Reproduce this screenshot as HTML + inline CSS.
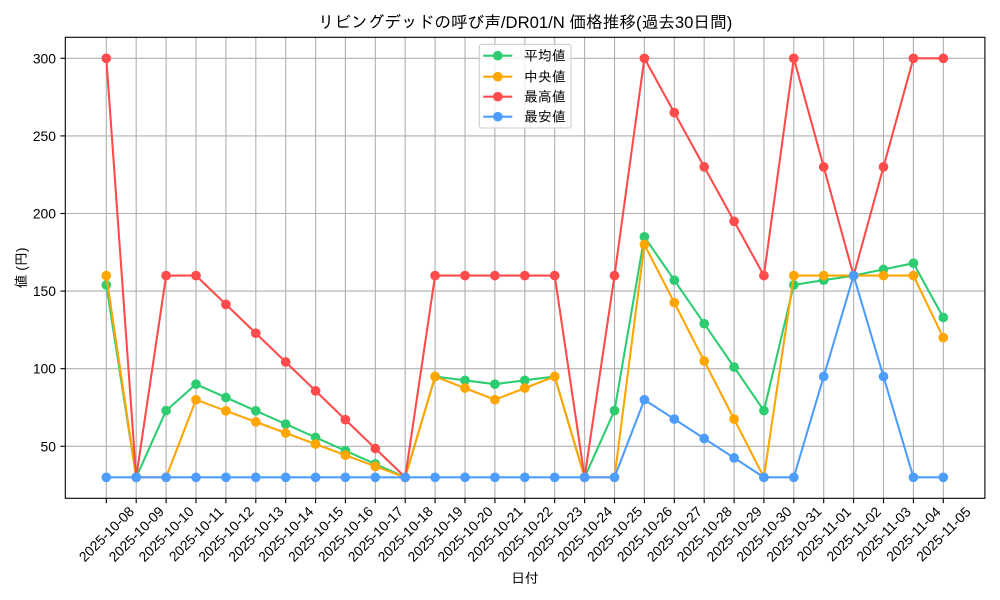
<!DOCTYPE html>
<html><head><meta charset="utf-8"><style>
html,body{margin:0;padding:0;background:#fff;}
svg{display:block;}
text{font-family:"Liberation Sans","IPAGothic",sans-serif;fill:#000;}
</style></head><body>
<svg width="1000" height="600" viewBox="0 0 1000 600" xmlns="http://www.w3.org/2000/svg">
<defs>
<marker id="mg" viewBox="-6 -6 12 12" markerWidth="12" markerHeight="12" markerUnits="userSpaceOnUse" refX="0" refY="0"><circle r="4.85" fill="#2ecc71"/></marker>
<marker id="mo" viewBox="-6 -6 12 12" markerWidth="12" markerHeight="12" markerUnits="userSpaceOnUse" refX="0" refY="0"><circle r="4.85" fill="#ffa500"/></marker>
<marker id="mr" viewBox="-6 -6 12 12" markerWidth="12" markerHeight="12" markerUnits="userSpaceOnUse" refX="0" refY="0"><circle r="4.85" fill="#ff4b4b"/></marker>
<marker id="mb" viewBox="-6 -6 12 12" markerWidth="12" markerHeight="12" markerUnits="userSpaceOnUse" refX="0" refY="0"><circle r="4.85" fill="#4d9dff"/></marker>
</defs>
<rect width="1000" height="600" fill="#fff"/>
<!-- grid -->
<g stroke="#b0b0b0" stroke-width="1.1">
<line x1="106.3" y1="37.3" x2="106.3" y2="498.3"/><line x1="136.2" y1="37.3" x2="136.2" y2="498.3"/><line x1="166.1" y1="37.3" x2="166.1" y2="498.3"/><line x1="196.0" y1="37.3" x2="196.0" y2="498.3"/><line x1="225.9" y1="37.3" x2="225.9" y2="498.3"/><line x1="255.8" y1="37.3" x2="255.8" y2="498.3"/><line x1="285.7" y1="37.3" x2="285.7" y2="498.3"/><line x1="315.6" y1="37.3" x2="315.6" y2="498.3"/><line x1="345.4" y1="37.3" x2="345.4" y2="498.3"/><line x1="375.3" y1="37.3" x2="375.3" y2="498.3"/><line x1="405.2" y1="37.3" x2="405.2" y2="498.3"/><line x1="435.1" y1="37.3" x2="435.1" y2="498.3"/><line x1="465.0" y1="37.3" x2="465.0" y2="498.3"/><line x1="494.9" y1="37.3" x2="494.9" y2="498.3"/><line x1="524.8" y1="37.3" x2="524.8" y2="498.3"/><line x1="554.7" y1="37.3" x2="554.7" y2="498.3"/><line x1="584.6" y1="37.3" x2="584.6" y2="498.3"/><line x1="614.5" y1="37.3" x2="614.5" y2="498.3"/><line x1="644.4" y1="37.3" x2="644.4" y2="498.3"/><line x1="674.3" y1="37.3" x2="674.3" y2="498.3"/><line x1="704.2" y1="37.3" x2="704.2" y2="498.3"/><line x1="734.1" y1="37.3" x2="734.1" y2="498.3"/><line x1="763.9" y1="37.3" x2="763.9" y2="498.3"/><line x1="793.8" y1="37.3" x2="793.8" y2="498.3"/><line x1="823.7" y1="37.3" x2="823.7" y2="498.3"/><line x1="853.6" y1="37.3" x2="853.6" y2="498.3"/><line x1="883.5" y1="37.3" x2="883.5" y2="498.3"/><line x1="913.4" y1="37.3" x2="913.4" y2="498.3"/><line x1="943.3" y1="37.3" x2="943.3" y2="498.3"/>
<line x1="65.3" y1="446.3" x2="984.9" y2="446.3"/><line x1="65.3" y1="368.7" x2="984.9" y2="368.7"/><line x1="65.3" y1="291.1" x2="984.9" y2="291.1"/><line x1="65.3" y1="213.5" x2="984.9" y2="213.5"/><line x1="65.3" y1="135.9" x2="984.9" y2="135.9"/><line x1="65.3" y1="58.3" x2="984.9" y2="58.3"/>
</g>
<!-- series -->
<g fill="none" stroke-width="2.08" stroke-linejoin="round">
<polyline stroke="#2ecc71" marker-start="url(#mg)" marker-mid="url(#mg)" marker-end="url(#mg)" points="106.3,284.9 136.2,477.3 166.1,410.6 196.0,384.2 225.9,397.5 255.8,410.8 285.7,424.1 315.6,437.4 345.4,450.7 375.3,464.0 405.2,477.3 435.1,376.5 465.0,380.3 494.9,384.2 524.8,380.3 554.7,376.5 584.6,477.3 614.5,410.6 644.4,236.8 674.3,280.2 704.2,323.7 734.1,367.1 763.9,410.6 793.8,284.9 823.7,280.2 853.6,275.6 883.5,269.4 913.4,263.2 943.3,317.5"/>
<polyline stroke="#ffa500" marker-start="url(#mo)" marker-mid="url(#mo)" marker-end="url(#mo)" points="106.3,275.6 136.2,477.3 166.1,477.3 196.0,399.7 225.9,410.8 255.8,421.9 285.7,433.0 315.6,444.1 345.4,455.2 375.3,466.3 405.2,477.3 435.1,376.5 465.0,388.1 494.9,399.7 524.8,388.1 554.7,376.5 584.6,477.3 614.5,477.3 644.4,244.5 674.3,302.7 704.2,361.0 734.1,419.1 763.9,477.3 793.8,275.6 823.7,275.6 853.6,275.6 883.5,275.6 913.4,275.6 943.3,337.7"/>
<polyline stroke="#ff4b4b" marker-start="url(#mr)" marker-mid="url(#mr)" marker-end="url(#mr)" points="106.3,58.3 136.2,477.3 166.1,275.6 196.0,275.6 225.9,304.4 255.8,333.2 285.7,362.0 315.6,390.9 345.4,419.7 375.3,448.5 405.2,477.3 435.1,275.6 465.0,275.6 494.9,275.6 524.8,275.6 554.7,275.6 584.6,477.3 614.5,275.6 644.4,58.3 674.3,112.6 704.2,166.9 734.1,221.3 763.9,275.6 793.8,58.3 823.7,166.9 853.6,275.6 883.5,166.9 913.4,58.3 943.3,58.3"/>
<polyline stroke="#4d9dff" marker-start="url(#mb)" marker-mid="url(#mb)" marker-end="url(#mb)" points="106.3,477.3 136.2,477.3 166.1,477.3 196.0,477.3 225.9,477.3 255.8,477.3 285.7,477.3 315.6,477.3 345.4,477.3 375.3,477.3 405.2,477.3 435.1,477.3 465.0,477.3 494.9,477.3 524.8,477.3 554.7,477.3 584.6,477.3 614.5,477.3 644.4,399.7 674.3,419.1 704.2,438.5 734.1,457.9 763.9,477.3 793.8,477.3 823.7,376.5 853.6,275.6 883.5,376.5 913.4,477.3 943.3,477.3"/>
</g>
<!-- frame -->
<rect x="65.3" y="37.3" width="919.6" height="461" fill="none" stroke="#000" stroke-width="1.1"/>
<!-- ticks -->
<g stroke="#000" stroke-width="1.1">
<line x1="106.3" y1="498.3" x2="106.3" y2="503.2"/><line x1="136.2" y1="498.3" x2="136.2" y2="503.2"/><line x1="166.1" y1="498.3" x2="166.1" y2="503.2"/><line x1="196.0" y1="498.3" x2="196.0" y2="503.2"/><line x1="225.9" y1="498.3" x2="225.9" y2="503.2"/><line x1="255.8" y1="498.3" x2="255.8" y2="503.2"/><line x1="285.7" y1="498.3" x2="285.7" y2="503.2"/><line x1="315.6" y1="498.3" x2="315.6" y2="503.2"/><line x1="345.4" y1="498.3" x2="345.4" y2="503.2"/><line x1="375.3" y1="498.3" x2="375.3" y2="503.2"/><line x1="405.2" y1="498.3" x2="405.2" y2="503.2"/><line x1="435.1" y1="498.3" x2="435.1" y2="503.2"/><line x1="465.0" y1="498.3" x2="465.0" y2="503.2"/><line x1="494.9" y1="498.3" x2="494.9" y2="503.2"/><line x1="524.8" y1="498.3" x2="524.8" y2="503.2"/><line x1="554.7" y1="498.3" x2="554.7" y2="503.2"/><line x1="584.6" y1="498.3" x2="584.6" y2="503.2"/><line x1="614.5" y1="498.3" x2="614.5" y2="503.2"/><line x1="644.4" y1="498.3" x2="644.4" y2="503.2"/><line x1="674.3" y1="498.3" x2="674.3" y2="503.2"/><line x1="704.2" y1="498.3" x2="704.2" y2="503.2"/><line x1="734.1" y1="498.3" x2="734.1" y2="503.2"/><line x1="763.9" y1="498.3" x2="763.9" y2="503.2"/><line x1="793.8" y1="498.3" x2="793.8" y2="503.2"/><line x1="823.7" y1="498.3" x2="823.7" y2="503.2"/><line x1="853.6" y1="498.3" x2="853.6" y2="503.2"/><line x1="883.5" y1="498.3" x2="883.5" y2="503.2"/><line x1="913.4" y1="498.3" x2="913.4" y2="503.2"/><line x1="943.3" y1="498.3" x2="943.3" y2="503.2"/>
<line x1="60.4" y1="446.3" x2="65.3" y2="446.3"/><line x1="60.4" y1="368.7" x2="65.3" y2="368.7"/><line x1="60.4" y1="291.1" x2="65.3" y2="291.1"/><line x1="60.4" y1="213.5" x2="65.3" y2="213.5"/><line x1="60.4" y1="135.9" x2="65.3" y2="135.9"/><line x1="60.4" y1="58.3" x2="65.3" y2="58.3"/>
</g>
<!-- y tick labels -->
<g font-size="13.9" text-anchor="end" dominant-baseline="central">
<text x="56" y="446.3">50</text><text x="56" y="368.7">100</text><text x="56" y="291.1">150</text><text x="56" y="213.5">200</text><text x="56" y="135.9">250</text><text x="56" y="58.3">300</text>
</g>
<!-- x tick labels -->
<g font-size="13.9" text-anchor="middle" dominant-baseline="central">
<text transform="translate(106.3,534) rotate(-45)">2025-10-08</text>
<text transform="translate(136.2,534) rotate(-45)">2025-10-09</text>
<text transform="translate(166.1,534) rotate(-45)">2025-10-10</text>
<text transform="translate(196.0,534) rotate(-45)">2025-10-11</text>
<text transform="translate(225.9,534) rotate(-45)">2025-10-12</text>
<text transform="translate(255.8,534) rotate(-45)">2025-10-13</text>
<text transform="translate(285.7,534) rotate(-45)">2025-10-14</text>
<text transform="translate(315.6,534) rotate(-45)">2025-10-15</text>
<text transform="translate(345.4,534) rotate(-45)">2025-10-16</text>
<text transform="translate(375.3,534) rotate(-45)">2025-10-17</text>
<text transform="translate(405.2,534) rotate(-45)">2025-10-18</text>
<text transform="translate(435.1,534) rotate(-45)">2025-10-19</text>
<text transform="translate(465.0,534) rotate(-45)">2025-10-20</text>
<text transform="translate(494.9,534) rotate(-45)">2025-10-21</text>
<text transform="translate(524.8,534) rotate(-45)">2025-10-22</text>
<text transform="translate(554.7,534) rotate(-45)">2025-10-23</text>
<text transform="translate(584.6,534) rotate(-45)">2025-10-24</text>
<text transform="translate(614.5,534) rotate(-45)">2025-10-25</text>
<text transform="translate(644.4,534) rotate(-45)">2025-10-26</text>
<text transform="translate(674.3,534) rotate(-45)">2025-10-27</text>
<text transform="translate(704.2,534) rotate(-45)">2025-10-28</text>
<text transform="translate(734.1,534) rotate(-45)">2025-10-29</text>
<text transform="translate(763.9,534) rotate(-45)">2025-10-30</text>
<text transform="translate(793.8,534) rotate(-45)">2025-10-31</text>
<text transform="translate(823.7,534) rotate(-45)">2025-11-01</text>
<text transform="translate(853.6,534) rotate(-45)">2025-11-02</text>
<text transform="translate(883.5,534) rotate(-45)">2025-11-03</text>
<text transform="translate(913.4,534) rotate(-45)">2025-11-04</text>
<text transform="translate(943.3,534) rotate(-45)">2025-11-05</text>
</g>
<!-- axis labels & title -->
<text x="525" y="578" font-size="13.9" text-anchor="middle" dominant-baseline="central">日付</text>
<text transform="translate(21,268) rotate(-90)" font-size="13.9" text-anchor="middle" dominant-baseline="central">値 (円)</text>
<text x="525" y="22.5" font-size="16.67" text-anchor="middle" dominant-baseline="central">リビングデッドの呼び声/DR01/N 価格推移(過去30日間)</text>
<!-- legend -->
<rect x="479.3" y="44.3" width="91.7" height="83.7" rx="2.5" fill="#fff" fill-opacity="0.8" stroke="#cccccc" stroke-width="1.1"/>
<g stroke-width="2.08">
<line x1="483.3" y1="55.7" x2="512.3" y2="55.7" stroke="#2ecc71"/><circle cx="497.8" cy="55.7" r="4.85" fill="#2ecc71"/>
<line x1="483.3" y1="76.7" x2="512.3" y2="76.7" stroke="#ffa500"/><circle cx="497.8" cy="76.7" r="4.85" fill="#ffa500"/>
<line x1="483.3" y1="96.7" x2="512.3" y2="96.7" stroke="#ff4b4b"/><circle cx="497.8" cy="96.7" r="4.85" fill="#ff4b4b"/>
<line x1="483.3" y1="116.7" x2="512.3" y2="116.7" stroke="#4d9dff"/><circle cx="497.8" cy="116.7" r="4.85" fill="#4d9dff"/>
</g>
<g font-size="13.9" dominant-baseline="central">
<text x="524" y="55.7">平均値</text>
<text x="524" y="76.7">中央値</text>
<text x="524" y="96.7">最高値</text>
<text x="524" y="116.7">最安値</text>
</g>
</svg>
</body></html>
